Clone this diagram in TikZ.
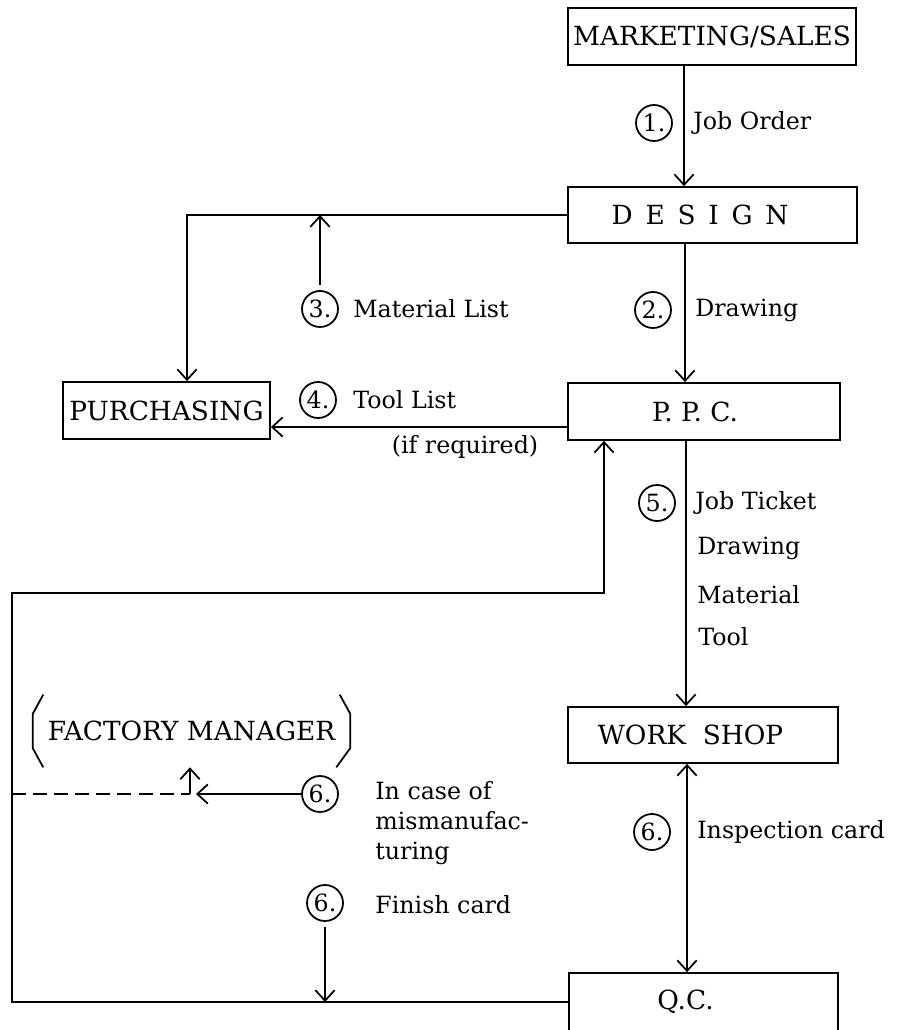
\documentclass[tikz,border=0pt]{standalone}
\usepackage{fontspec}
\setmainfont{DejaVu Serif}
\usetikzlibrary{arrows.meta}
\tikzset{
  box/.style={draw, line width=1pt, inner sep=2pt, font=\fontsize{15}{18}\selectfont},
  numcirc/.style={draw, circle, line width=1pt, inner sep=0pt, minimum size=0.72cm},
  lbl/.style={anchor=west, inner sep=0pt},
  flow/.style={line width=1pt, -{Straight Barb[length=6pt,width=11pt]}},
  twoway/.style={line width=1pt, {Straight Barb[length=6pt,width=11pt]}-{Straight Barb[length=6pt,width=11pt]}},
}
\begin{document}
\begin{tikzpicture}[x=0.02cm, y=-0.02cm, font=\fontsize{13.5}{17}\selectfont]
    \useasboundingbox (0,0) rectangle (898,1030);
    % Departments
    \node[box, minimum width=5.76cm, minimum height=1.14cm] (mkt) at (712,36.5) {MARKETING/SALES};
    \node[box, minimum width=5.78cm, minimum height=1.12cm] (dsg) at (712.5,215) {D\,\ E\,\ S\,\ I\,\ G\,\ N\hspace*{0.5cm}};
    \node[box, minimum width=5.44cm, minimum height=1.14cm] (ppc) at (704,411.5) {P. P. C.\hspace*{0.36cm}};
    \node[box, minimum width=4.14cm, minimum height=1.14cm] (pur) at (166.5,410.5) {PURCHASING};
    \node[box, minimum width=5.40cm, minimum height=1.12cm] (ws) at (703,735) {WORK\ \ SHOP\hspace*{0.5cm}};
    \node[box, minimum width=5.38cm, minimum height=1.16cm] (qc) at (703.5,1002) {Q.C.\hspace*{0.72cm}};
    \node[font=\fontsize{15}{18}\selectfont, minimum width=6.34cm, minimum height=1.44cm, inner sep=0pt] (fm) at (191.5,731) {FACTORY MANAGER};
    % Brackets round the factory manager
    \draw[line width=1pt] ([xshift=6pt]fm.north west) -- ([yshift=-11pt]fm.north west)
        -- ([yshift=11pt]fm.south west) -- ([xshift=6pt]fm.south west);
    \draw[line width=1pt] ([xshift=-6pt]fm.north east) -- ([yshift=-11pt]fm.north east)
        -- ([yshift=11pt]fm.south east) -- ([xshift=-8pt]fm.south east);

    % Main flow down the right side
    \draw[flow] (684,0 |- mkt.south) -- (684,0 |- dsg.north);
    \node[numcirc] (c1) at (654,123) {1.};
    \node[lbl] (jo) at (693,123) {Job Order};

    \draw[flow] (685,0 |- dsg.south) -- (685,0 |- ppc.north);
    \node[numcirc] (c2) at (653,310) {2.};
    \node[lbl] (dr) at (695,310) {Drawing};

    \draw[flow] (686,0 |- ppc.south) -- (686,0 |- ws.north);
    \node[numcirc] (c5) at (657,503) {5.};
    \node[lbl] (jt) at (695,503) {Job Ticket};
    \node[lbl] (dr2) at (697,548) {Drawing};
    \node[lbl] (mat) at (697,595) {Material};
    \node[lbl] (tl) at (698,637) {Tool};

    \draw[twoway] (687,0 |- ws.south) -- (687,0 |- qc.north);
    \node[numcirc] (c6c) at (652,832) {6.};
    \node[lbl] (ic) at (697,832) {Inspection card};

    % Design to purchasing
    \draw[flow] (dsg.west) -- (187,0 |- dsg.west) -- (187,0 |- pur.north);
    \node[numcirc] (c3) at (320,309) {3.};
    \draw[flow] ([yshift=3pt]c3.north) -- (c3 |- dsg.west);
    \node[lbl] (ml) at (353,309) {Material List};

    % P.P.C. to purchasing
    \draw[flow] (ppc.west |- 0,427) -- (pur.east |- 0,427);
    \node[numcirc] (c4) at (318,400) {4.};
    \node[lbl] (tli) at (353,400) {Tool List};
    \node (ifr) at (465,447) {(if required)};

    % Feedback from Q.C. back to P.P.C.
    \draw[flow] (qc.west) -- (12,0 |- qc.west) -- (12,593) -- (604,593) -- (604,0 |- ppc.south);

    % Mismanufacturing to factory manager
    \node[numcirc] (c6a) at (320,794) {6.};
    \draw[flow] (c6a.west) -- (196,0 |- c6a.west);
    \draw[line width=1pt, dash pattern=on 8pt off 4pt] (12,0 |- c6a.west) -- (190,0 |- c6a.west);
    \draw[flow] (190,0 |- c6a.west) -- (190,0 |- fm.south);
    \node[lbl, anchor=north west, align=left] (case) at (375,781) {In case of\\mismanufac-\\turing};

    % Finish card
    \node[numcirc] (c6b) at (325,903) {6.};
    \node[lbl] (fc) at (375,905) {Finish card};
    \draw[flow] ([yshift=-3pt]c6b.south) -- (c6b |- qc.west);
\end{tikzpicture}
\end{document}
